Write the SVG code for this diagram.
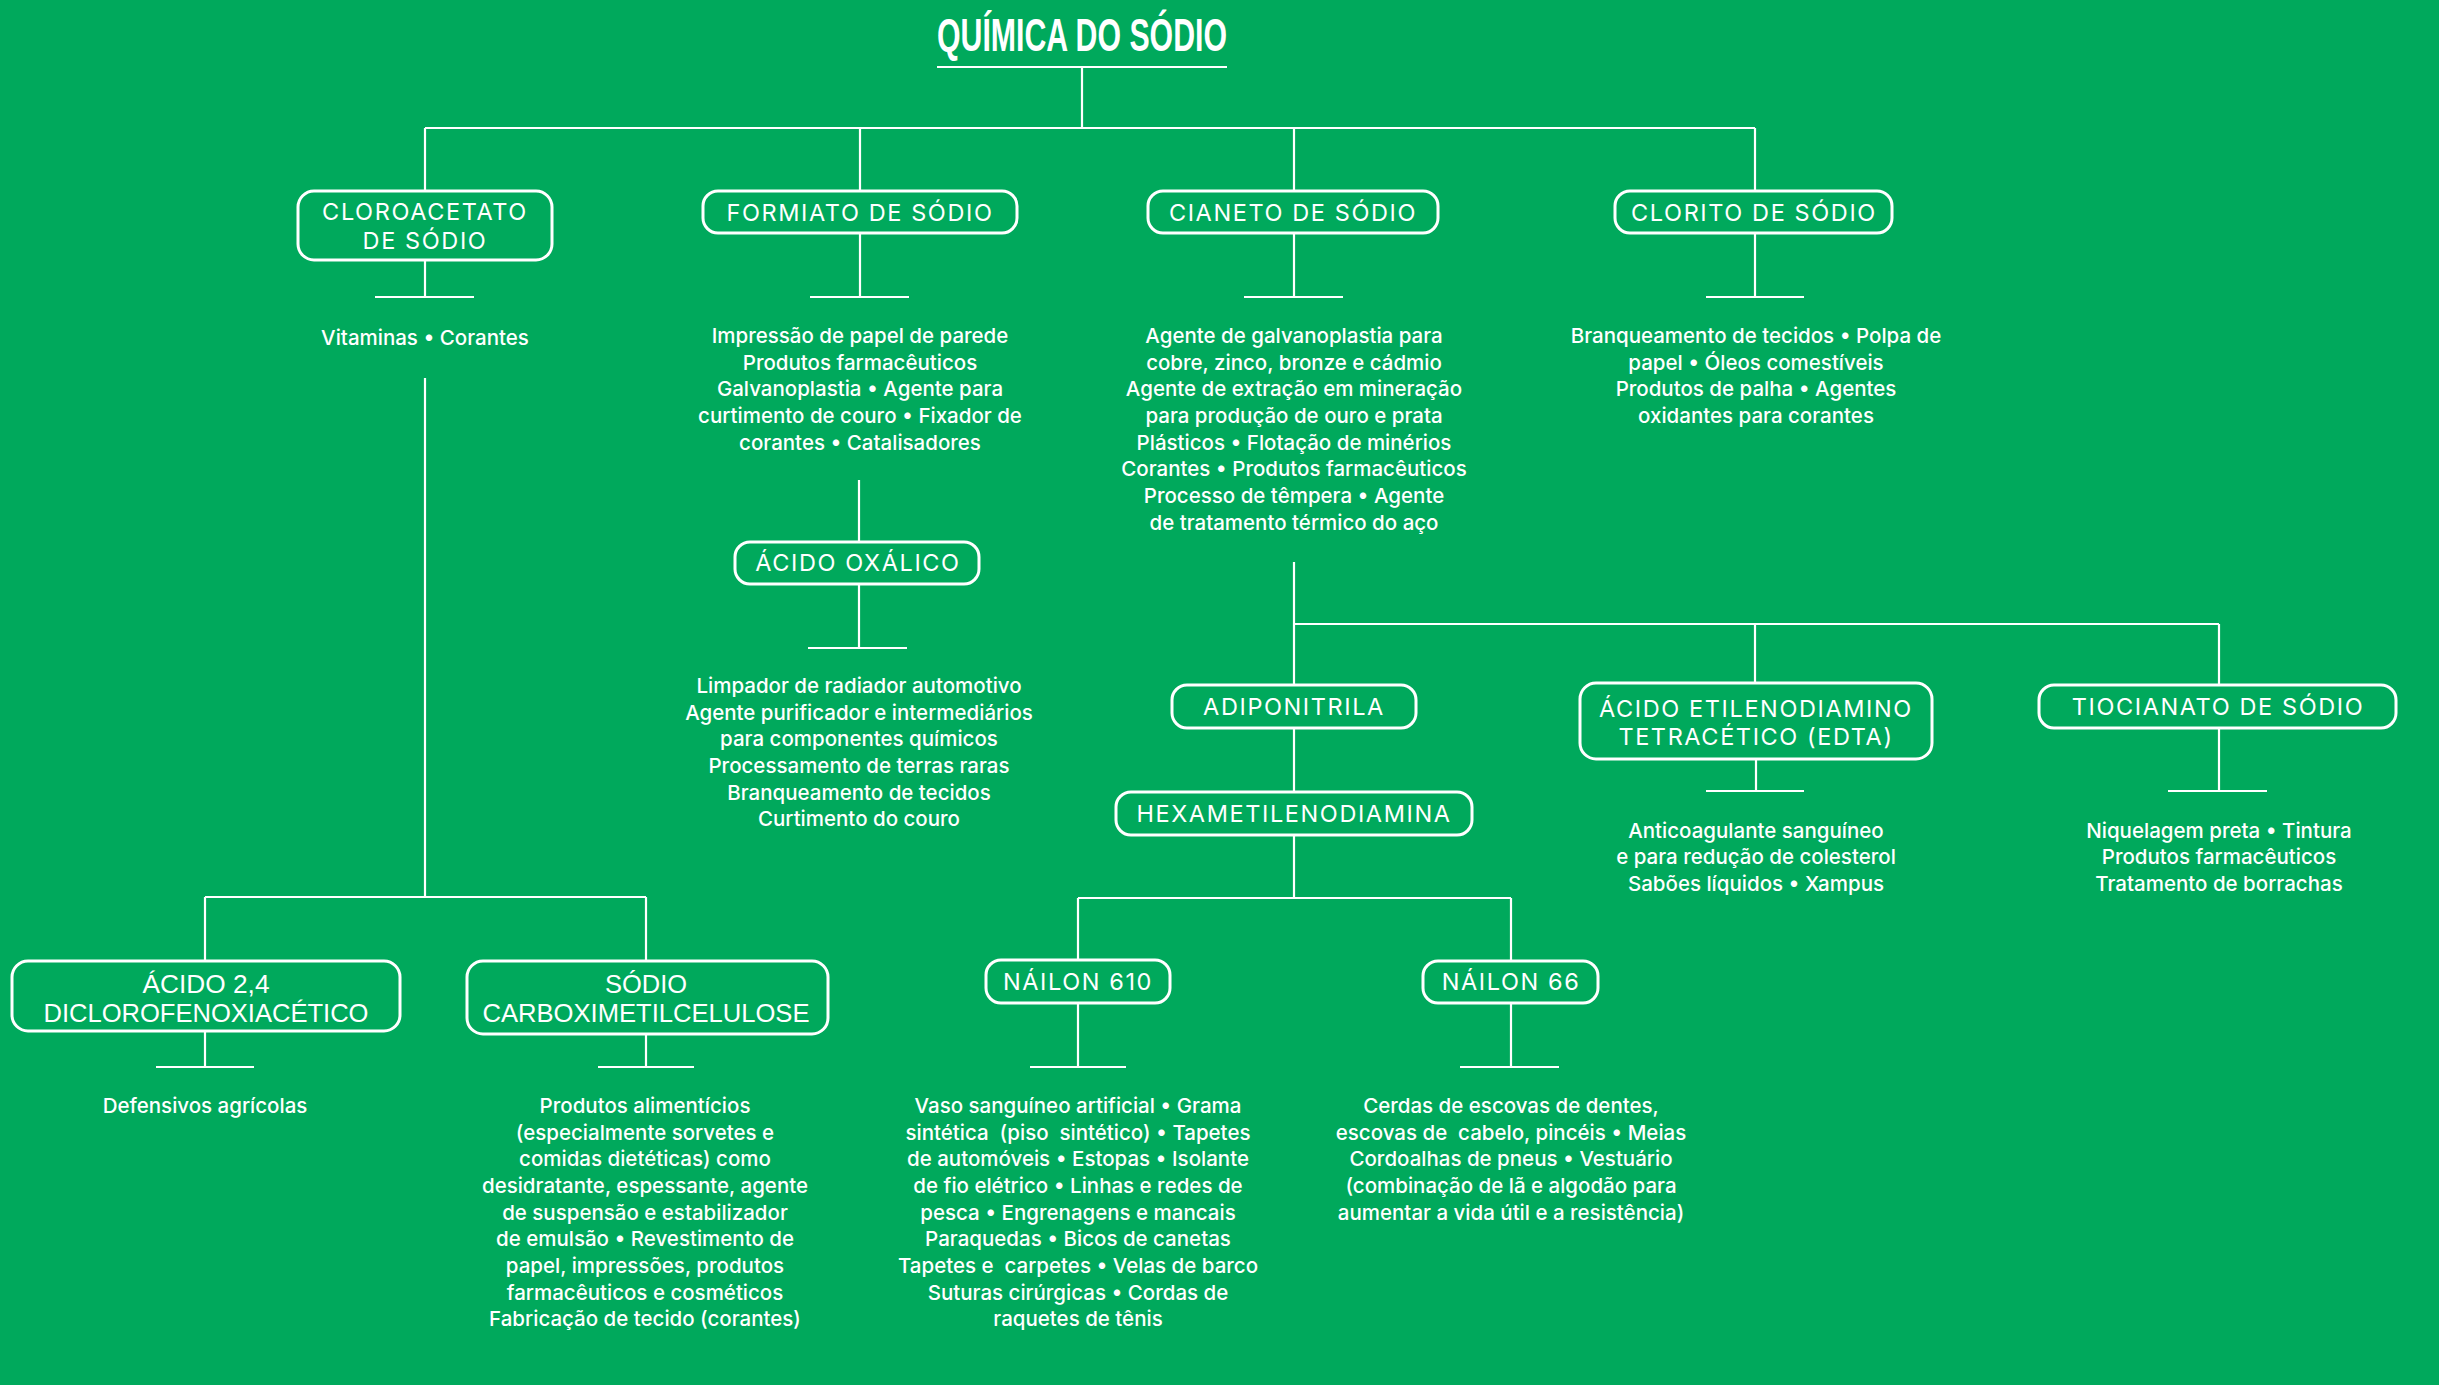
<svg xmlns="http://www.w3.org/2000/svg" width="2439" height="1385" viewBox="0 0 2439 1385">
<style>
.bg{fill:#00A95C}
.ln{stroke:#ffffff;stroke-width:2.2;fill:none}
.box{stroke:#ffffff;stroke-width:3;fill:none}
.lbl{font-family:Inter,"Noto Sans","Liberation Sans",sans-serif;font-size:23.5px;fill:#ffffff;text-anchor:middle;letter-spacing:1.6px}
.lblc{font-family:"Liberation Sans",Inter,sans-serif;font-size:26px;fill:#ffffff;text-anchor:middle}
.txt{font-family:Inter,"Noto Sans","Liberation Sans",sans-serif;font-size:20.5px;font-weight:500;fill:#ffffff;text-anchor:middle;white-space:pre}
.title{font-family:"Liberation Sans",Arial,sans-serif;font-weight:bold;font-size:46px;fill:#ffffff}
</style>
<rect class="bg" x="0" y="0" width="2439" height="1385"/>

<g id="title">
<text class="title" x="937" y="51" textLength="290" lengthAdjust="spacingAndGlyphs">QUÍMICA DO SÓDIO</text>
<line class="ln" x1="937" y1="67" x2="1227" y2="67"/>
</g>

<g id="connectors">
<path class="ln" d="M1082 67 V128 M425 128 H1755 M425 128 V191 M860 128 V191 M1294 128 V191 M1755 128 V191"/>
<path class="ln" d="M425 260 V297 M375 297 H474 M425 378 V897 M205 897 H646 M205 897 V961 M646 897 V961"/>
<path class="ln" d="M205 1031 V1067 M156 1067 H254 M646 1034 V1067 M598 1067 H694"/>
<path class="ln" d="M860 233 V297 M810 297 H909 M859 480 V542 M859 584 V648 M808 648 H907"/>
<path class="ln" d="M1294 233 V297 M1244 297 H1343 M1294 562 V624 M1294 624 H2219 M1294 624 V685 M1755 624 V683 M2219 624 V685"/>
<path class="ln" d="M1294 728 V792 M1294 835 V898 M1078 898 H1511 M1078 898 V960 M1511 898 V961"/>
<path class="ln" d="M1078 1003 V1067 M1030 1067 H1126 M1511 1003 V1067 M1460 1067 H1559"/>
<path class="ln" d="M1756 759 V791 M1706 791 H1804 M2219 728 V791 M2168 791 H2267"/>
<path class="ln" d="M1755 233 V297 M1706 297 H1804"/>
</g>

<g id="cloroacetato">
<rect class="box" x="298" y="191" width="254" height="69" rx="16"/>
<text class="lbl" x="425" y="220">CLOROACETATO</text>
<text class="lbl" x="425" y="249">DE SÓDIO</text>
<text class="txt" x="425" y="345">Vitaminas • Corantes</text>
</g>

<g id="formiato">
<rect class="box" x="703" y="191" width="314" height="42" rx="15"/>
<text class="lbl" x="860" y="221">FORMIATO DE SÓDIO</text>
<text class="txt" x="860" y="343">Impressão de papel de parede</text>
<text class="txt" x="860" y="370">Produtos farmacêuticos</text>
<text class="txt" x="860" y="396">Galvanoplastia • Agente para</text>
<text class="txt" x="860" y="423">curtimento de couro • Fixador de</text>
<text class="txt" x="860" y="450">corantes • Catalisadores</text>
</g>

<g id="acido-oxalico">
<rect class="box" x="735" y="542" width="244" height="42" rx="15"/>
<text class="lbl" x="858" y="571">ÁCIDO OXÁLICO</text>
<text class="txt" x="859" y="693">Limpador de radiador automotivo</text>
<text class="txt" x="859" y="720">Agente purificador e intermediários</text>
<text class="txt" x="859" y="746">para componentes químicos</text>
<text class="txt" x="859" y="773">Processamento de terras raras</text>
<text class="txt" x="859" y="800">Branqueamento de tecidos</text>
<text class="txt" x="859" y="826">Curtimento do couro</text>
</g>

<g id="cianeto">
<rect class="box" x="1148" y="191" width="290" height="42" rx="15"/>
<text class="lbl" x="1293" y="221">CIANETO DE SÓDIO</text>
<text class="txt" x="1294" y="343">Agente de galvanoplastia para</text>
<text class="txt" x="1294" y="370">cobre, zinco, bronze e cádmio</text>
<text class="txt" x="1294" y="396">Agente de extração em mineração</text>
<text class="txt" x="1294" y="423">para produção de ouro e prata</text>
<text class="txt" x="1294" y="450">Plásticos • Flotação de minérios</text>
<text class="txt" x="1294" y="476">Corantes • Produtos farmacêuticos</text>
<text class="txt" x="1294" y="503">Processo de têmpera • Agente</text>
<text class="txt" x="1294" y="530">de tratamento térmico do aço</text>
</g>

<g id="clorito">
<rect class="box" x="1615" y="191" width="277" height="42" rx="15"/>
<text class="lbl" x="1754" y="221">CLORITO DE SÓDIO</text>
<text class="txt" x="1756" y="343">Branqueamento de tecidos • Polpa de</text>
<text class="txt" x="1756" y="370">papel • Óleos comestíveis</text>
<text class="txt" x="1756" y="396">Produtos de palha • Agentes</text>
<text class="txt" x="1756" y="423">oxidantes para corantes</text>
</g>

<g id="adiponitrila">
<rect class="box" x="1172" y="685" width="244" height="43" rx="15"/>
<text class="lbl" x="1294" y="715">ADIPONITRILA</text>
</g>

<g id="hexametilenodiamina">
<rect class="box" x="1116" y="792" width="356" height="43" rx="15"/>
<text class="lbl" x="1294" y="822">HEXAMETILENODIAMINA</text>
</g>

<g id="edta">
<rect class="box" x="1580" y="683" width="352" height="76" rx="16"/>
<text class="lbl" x="1756" y="717">ÁCIDO ETILENODIAMINO</text>
<text class="lbl" x="1756" y="745">TETRACÉTICO (EDTA)</text>
<text class="txt" x="1756" y="838">Anticoagulante sanguíneo</text>
<text class="txt" x="1756" y="864">e para redução de colesterol</text>
<text class="txt" x="1756" y="891">Sabões líquidos • Xampus</text>
</g>

<g id="tiocianato">
<rect class="box" x="2039" y="685" width="357" height="43" rx="15"/>
<text class="lbl" x="2218" y="715">TIOCIANATO DE SÓDIO</text>
<text class="txt" x="2219" y="838">Niquelagem preta • Tintura</text>
<text class="txt" x="2219" y="864">Produtos farmacêuticos</text>
<text class="txt" x="2219" y="891">Tratamento de borrachas</text>
</g>

<g id="acido-24d">
<rect class="box" x="12" y="961" width="388" height="70" rx="16"/>
<text class="lblc" x="206" y="993" textLength="127" lengthAdjust="spacingAndGlyphs">ÁCIDO 2,4</text>
<text class="lblc" x="206" y="1022" textLength="325" lengthAdjust="spacingAndGlyphs">DICLOROFENOXIACÉTICO</text>
<text class="txt" x="205" y="1113">Defensivos agrícolas</text>
</g>

<g id="carboximetilcelulose">
<rect class="box" x="467" y="961" width="361" height="73" rx="16"/>
<text class="lblc" x="646" y="993" textLength="82" lengthAdjust="spacingAndGlyphs">SÓDIO</text>
<text class="lblc" x="646" y="1022" textLength="327" lengthAdjust="spacingAndGlyphs">CARBOXIMETILCELULOSE</text>
<text class="txt" x="645" y="1113">Produtos alimentícios</text>
<text class="txt" x="645" y="1140">(especialmente sorvetes e</text>
<text class="txt" x="645" y="1166">comidas dietéticas) como</text>
<text class="txt" x="645" y="1193">desidratante, espessante, agente</text>
<text class="txt" x="645" y="1220">de suspensão e estabilizador</text>
<text class="txt" x="645" y="1246">de emulsão • Revestimento de</text>
<text class="txt" x="645" y="1273">papel, impressões, produtos</text>
<text class="txt" x="645" y="1300">farmacêuticos e cosméticos</text>
<text class="txt" x="645" y="1326">Fabricação de tecido (corantes)</text>
</g>

<g id="nailon-610">
<rect class="box" x="986" y="960" width="184" height="43" rx="15"/>
<text class="lbl" x="1078" y="990">NÁILON 610</text>
<text class="txt" x="1078" y="1113">Vaso sanguíneo artificial • Grama</text>
<text class="txt" x="1078" y="1140">sintética  (piso  sintético) • Tapetes</text>
<text class="txt" x="1078" y="1166">de automóveis • Estopas • Isolante</text>
<text class="txt" x="1078" y="1193">de fio elétrico • Linhas e redes de</text>
<text class="txt" x="1078" y="1220">pesca • Engrenagens e mancais</text>
<text class="txt" x="1078" y="1246">Paraquedas • Bicos de canetas</text>
<text class="txt" x="1078" y="1273">Tapetes e  carpetes • Velas de barco</text>
<text class="txt" x="1078" y="1300">Suturas cirúrgicas • Cordas de</text>
<text class="txt" x="1078" y="1326">raquetes de tênis</text>
</g>

<g id="nailon-66">
<rect class="box" x="1423" y="961" width="175" height="42" rx="15"/>
<text class="lbl" x="1511" y="990">NÁILON 66</text>
<text class="txt" x="1511" y="1113">Cerdas de escovas de dentes,</text>
<text class="txt" x="1511" y="1140">escovas de  cabelo, pincéis • Meias</text>
<text class="txt" x="1511" y="1166">Cordoalhas de pneus • Vestuário</text>
<text class="txt" x="1511" y="1193">(combinação de lã e algodão para</text>
<text class="txt" x="1511" y="1220">aumentar a vida útil e a resistência)</text>
</g>
</svg>
